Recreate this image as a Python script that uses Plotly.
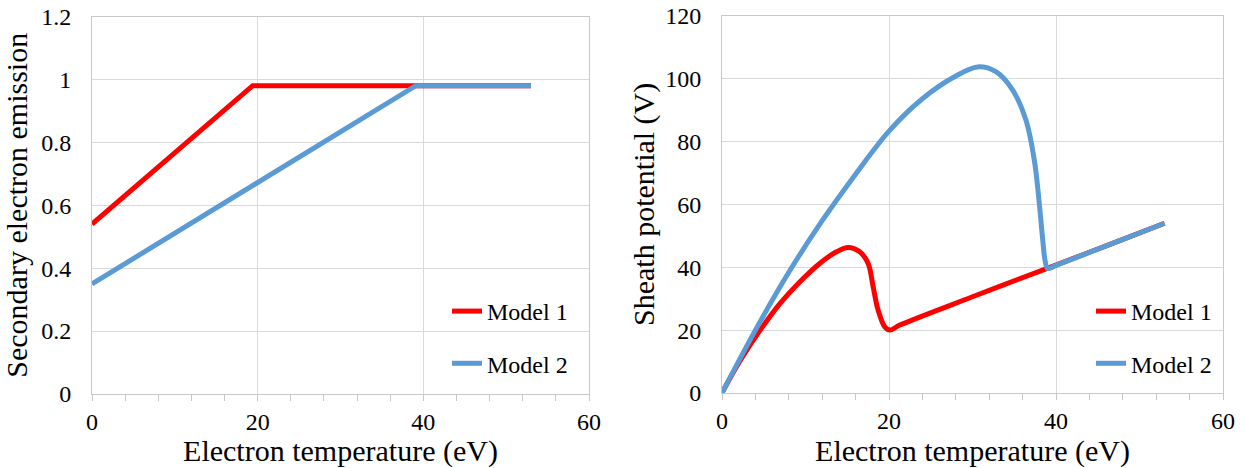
import plotly.graph_objects as go

# ---- Data ----
# Left panel: secondary electron emission vs electron temperature
see_m1_x = [0, 19.4, 53]
see_m1_y = [0.54, 0.98, 0.98]
see_m2_x = [0, 39.1, 53]
see_m2_y = [0.35, 0.98, 0.98]

# Right panel: sheath potential vs electron temperature
sp_m1_x = [0, 2.2, 4.57, 6.96, 9.34, 11.7, 13.7, 15.1, 16.5, 17.5, 18.1, 18.7, 19.5, 20.1, 21.3, 30, 38.8, 46, 53]
sp_m1_y = [0, 10.4, 20, 28.5, 35.4, 41.2, 44.9, 46.3, 44.9, 41.2, 33.8, 26.3, 21.0, 20.0, 21.6, 30.6, 39.5, 46.8, 54]
sp_m2_x = [0, 4, 8, 12, 16, 20, 24, 28, 30.6, 32.8, 34.8, 36.4, 37.4, 38.0, 38.4, 38.7, 39.0, 40, 46, 53]
sp_m2_y = [0, 20, 38.4, 54.8, 69.6, 83.3, 93.6, 100.8, 103.7, 102.2, 96.4, 86.8, 74.1, 60.3, 49.0, 42.0, 39.6, 40.6, 46.8, 54]

series_names = ["Model 1", "Model 2"]
x_ticks = [0, 20, 40, 60]
see_ticks = [0, 0.2, 0.4, 0.6, 0.8, 1, 1.2]
see_tick_labels = ["0", "0.2", "0.4", "0.6", "0.8", "1", "1.2"]
sp_ticks = [0, 20, 40, 60, 80, 100, 120]

RED = "#FF0000"
BLUE = "#5B9BD5"
FONT = "Liberation Serif"
GRID = "#D9D9D9"
AXL = "#C8C8C8"

W, H = 1247, 468


def fx(p):
    return p / W


def fy(p):
    return 1 - p / H


fig = go.Figure()
fig.add_trace(go.Scatter(x=see_m1_x, y=see_m1_y, mode="lines", name=series_names[0],
                         line=dict(color=RED, width=5), xaxis="x", yaxis="y",
                         legend="legend", legendgroup="a1"))
fig.add_trace(go.Scatter(x=see_m2_x, y=see_m2_y, mode="lines", name=series_names[1],
                         line=dict(color=BLUE, width=5), xaxis="x", yaxis="y",
                         legend="legend", legendgroup="a2"))
fig.add_trace(go.Scatter(x=sp_m1_x, y=sp_m1_y, mode="lines", name=series_names[0],
                         line=dict(color=RED, width=5, shape="spline", smoothing=1.0),
                         xaxis="x2", yaxis="y2", legend="legend2", legendgroup="b1"))
fig.add_trace(go.Scatter(x=sp_m2_x, y=sp_m2_y, mode="lines", name=series_names[1],
                         line=dict(color=BLUE, width=5, shape="spline", smoothing=1.0),
                         xaxis="x2", yaxis="y2", legend="legend2", legendgroup="b2"))


def xax(domain, anchor):
    return dict(domain=domain, anchor=anchor, range=[0, 60], tickvals=x_ticks,
                automargin=False,
                showgrid=True, gridcolor=GRID, gridwidth=1, zeroline=False,
                showline=True, linecolor=AXL, linewidth=1, mirror=True,
                ticks="outside", ticklen=6, tickcolor=AXL, ticklabelstandoff=0,
                minor=dict(dtick=4, tick0=0, ticks="outside", ticklen=6, tickcolor=AXL, showgrid=False),
                tickfont=dict(family=FONT, size=24, color="black"),
                title=dict(text="Electron temperature (eV)", font=dict(family=FONT, size=30, color="black"),
                           standoff=0))


def yax(domain, anchor, rng, tickvals, ticktext, title, standoff):
    return dict(domain=domain, anchor=anchor, range=rng, tickvals=tickvals, ticktext=ticktext,
                automargin=False, ticklabeloverflow="allow",
                showgrid=True, gridcolor=GRID, gridwidth=1, zeroline=False,
                showline=True, linecolor=AXL, linewidth=1, mirror=True, ticks="",
                ticklabelstandoff=15,
                tickfont=dict(family=FONT, size=24, color="black"),
                title=dict(text=title, font=dict(family=FONT, size=30, color="black"), standoff=standoff))


legend_style = dict(xanchor="left", yanchor="top", bgcolor="rgba(0,0,0,0)", tracegroupgap=18,
                    font=dict(family=FONT, size=24, color="black"))

fig.update_layout(
    template="none",
    width=W, height=H,
    margin=dict(l=0, r=0, t=0, b=0, pad=0),
    font=dict(family=FONT, size=24, color="black"),
    paper_bgcolor="white", plot_bgcolor="white",
    xaxis=xax([fx(92), fx(589)], "y"),
    yaxis=yax([fy(394), fy(16.5)], "x", [0, 1.2], see_ticks, see_tick_labels,
              "Secondary electron emission", 7),
    xaxis2=xax([fx(722), fx(1223)], "y2"),
    yaxis2=yax([fy(393), fy(15.7)], "x2", [0, 120], sp_ticks, [str(v) for v in sp_ticks],
               "Sheath potential (V)", 1),
    legend=dict(x=fx(447), y=fy(289), **legend_style),
    legend2=dict(x=fx(1091), y=fy(289), **legend_style),
    showlegend=True,
)

fig.write_html("out.html", config={"displayModeBar": False},
               post_script="document.body.style.margin='0';")
